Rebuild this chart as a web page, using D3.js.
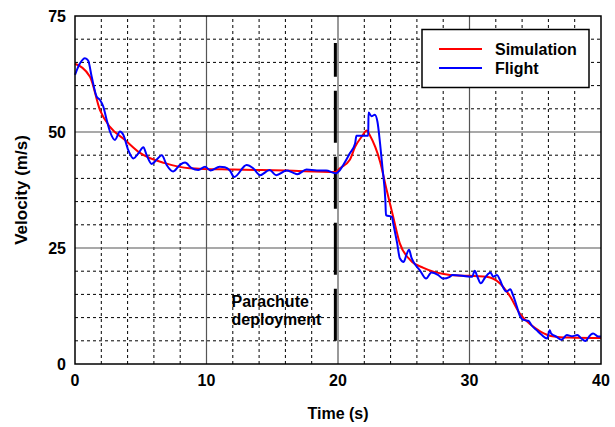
<!DOCTYPE html>
<html><head><meta charset="utf-8">
<script src="https://cdn.jsdelivr.net/npm/d3@7"></script>
<style>body{margin:0;background:#fff}text{font-family:"Liberation Sans",Arial,sans-serif;font-weight:bold}</style>
</head><body><svg id="c" width="615" height="427"></svg>
<script>
const simT = [0,1.14,1.9,2.66,3.8,4.94,6.84,8.7,12,16,19.8,20.15,20.9,21.3,21.8,22.2,22.4,23.2,23.7,24.2,24.7,25.5,26.5,28.5,31.3,32.3,33.1,33.8,34.6,35.4,36.3,37.6,40];
const simV = [64.7,61.9,54.7,51.1,48.3,45.5,43.3,42.2,41.9,41.7,41.4,42.2,44,46.8,49,50.3,49.4,43.6,37.5,31.7,26,22.4,20.7,19.2,18.8,17.4,14.5,11,8.6,7,6,5.7,5.6];
const flightT = [0,0.38,0.76,1.0,1.27,1.65,1.9,2.15,2.41,2.66,3.04,3.42,3.67,4.05,4.44,4.82,5.2,5.45,5.83,6.2,6.6,6.97,7.47,7.98,8.37,8.87,9.38,9.89,10.3,11.0,11.4,11.8,12.1,13.05,13.55,14.07,14.8,15.3,16.1,16.6,16.9,17.6,18.4,19.1,19.8,20.15,20.4,20.9,21.3,21.4,22.3,22.32,22.55,22.8,23.0,23.2,23.4,23.6,23.65,24.1,24.2,24.5,24.7,25.0,25.2,25.4,25.6,25.9,26.2,26.7,27.1,27.6,28.0,28.5,28.7,30.2,30.4,30.6,30.85,31.2,31.6,31.8,32.1,32.3,32.6,32.8,33.1,33.3,33.6,33.8,34.1,34.5,34.7,35.1,35.5,35.9,36.1,36.2,36.6,37.0,37.4,37.8,38.2,38.5,38.8,39.2,39.4,39.8,40];
const flightV = [62.3,64.8,65.9,65.4,61.9,57.6,56.9,55.5,52.6,50.1,48.3,50.1,49.4,46.1,44.3,45.4,46.7,45,43.1,44,45,42.9,41.5,42.9,43.4,42.2,41.8,42.5,41.7,42.5,42.4,41.6,40.3,42.9,42.2,40.7,41.8,40.7,41.7,41.2,40.9,41.9,41.7,41.7,41.1,41.8,42.9,45.4,47.5,49.2,49.2,54.2,53.4,53.7,52.2,47.5,41.8,35.3,32.1,31.7,30.3,26,22.8,22,23.5,24.6,22.8,21.3,20.3,18.4,19.7,19.2,18.4,18.8,19.2,18.8,20.1,18.8,17.4,18.7,19.7,18.8,19.2,18.2,16.3,15.6,16.1,14.9,12.4,10.6,9.5,9.3,8.4,7.3,6.25,5.5,7.3,6.6,5.9,5.2,6.25,6,6.25,5.5,4.95,6.25,6.6,5.9,5.9];
const xTicks = [0,10,20,30,40];
const yTicks = [0,25,50,75];
const xMinor = d3.range(0,41,2);
const yMinor = d3.range(0,76,5);
const deployT = 19.8, deployFrom = 5, deployTo = 69.2;
const seriesNames = ["Simulation","Flight"];
const seriesColors = ["#ff0000","#0000ff"];

const W=615,H=427,m={l:75,r:14,t:16,b:63};
const svg=d3.select("#c");
const x=d3.scaleLinear().domain([0,40]).range([m.l,W-m.r]);
const y=d3.scaleLinear().domain([0,75]).range([H-m.b,m.t]);
const g=svg.append("g");
// minor dashed grid
g.selectAll(".vx").data(xMinor.filter(d=>d%10)).join("line")
 .attr("x1",d=>x(d)).attr("x2",d=>x(d)).attr("y1",y(0)).attr("y2",y(75))
 .attr("stroke","#000").attr("stroke-width",1).attr("stroke-dasharray","3,3");
g.selectAll(".hy").data(yMinor.filter(d=>d%25)).join("line")
 .attr("y1",d=>y(d)).attr("y2",d=>y(d)).attr("x1",x(0)).attr("x2",x(40))
 .attr("stroke","#000").attr("stroke-width",1).attr("stroke-dasharray","3,3");
// major solid grid
g.selectAll(".mx").data(xTicks.slice(1,-1)).join("line")
 .attr("x1",d=>x(d)).attr("x2",d=>x(d)).attr("y1",y(0)).attr("y2",y(75))
 .attr("stroke","#555").attr("stroke-width",1.2);
g.selectAll(".my").data(yTicks.slice(1,-1)).join("line")
 .attr("y1",d=>y(d)).attr("y2",d=>y(d)).attr("x1",x(0)).attr("x2",x(40))
 .attr("stroke","#555").attr("stroke-width",1.2);
// deployment line
g.append("line").attr("x1",x(deployT)).attr("x2",x(deployT)).attr("y1",y(deployFrom)).attr("y2",y(deployTo))
 .attr("stroke","#000").attr("stroke-width",3).attr("stroke-dasharray","52,14");
g.append("text").attr("x",x(11.9)).attr("y",y(12.3)).attr("font-size",16).text("Parachute");
g.append("text").attr("x",x(11.9)).attr("y",y(8.4)).attr("font-size",16).text("deployment");
// lines
const line=d3.line().x(d=>x(d[0])).y(d=>y(d[1]));
g.append("path").datum(simT.map((t,i)=>[t,simV[i]])).attr("d",line.curve(d3.curveMonotoneX))
 .attr("fill","none").attr("stroke",seriesColors[0]).attr("stroke-width",2);
g.append("path").datum(flightT.map((t,i)=>[t,flightV[i]])).attr("d",d3.line().x(d=>x(d[0])).y(d=>y(d[1])).curve(d3.curveMonotoneX))
 .attr("fill","none").attr("stroke",seriesColors[1]).attr("stroke-width",2);
// frame
g.append("rect").attr("x",x(0)).attr("y",y(75)).attr("width",x(40)-x(0)).attr("height",y(0)-y(75))
 .attr("fill","none").attr("stroke","#000").attr("stroke-width",1.5);
// axes labels
g.selectAll(".xl").data(xTicks).join("text").attr("x",d=>x(d)).attr("y",y(0)+22)
 .attr("text-anchor","middle").attr("font-size",16).text(d=>d);
g.selectAll(".yl").data(yTicks).join("text").attr("x",x(0)-9).attr("y",d=>y(d)+6)
 .attr("text-anchor","end").attr("font-size",16).text(d=>d);
svg.append("text").attr("x",(x(0)+x(40))/2).attr("y",419).attr("text-anchor","middle").attr("font-size",16).text("Time (s)");
svg.append("text").attr("transform","translate(27,190) rotate(-90)").attr("text-anchor","middle").attr("font-size",17).text("Velocity (m/s)");
// legend
const lg=svg.append("g");
lg.append("rect").attr("x",422).attr("y",29.5).attr("width",167).attr("height",58).attr("fill","#fff").attr("stroke","#000").attr("stroke-width",1.5);
seriesNames.forEach((n,i)=>{
 lg.append("line").attr("x1",439).attr("x2",482).attr("y1",49+i*19).attr("y2",49+i*19).attr("stroke",seriesColors[i]).attr("stroke-width",2);
 lg.append("text").attr("x",495).attr("y",55+i*19).attr("font-size",16).text(n);
});
</script></body></html>
